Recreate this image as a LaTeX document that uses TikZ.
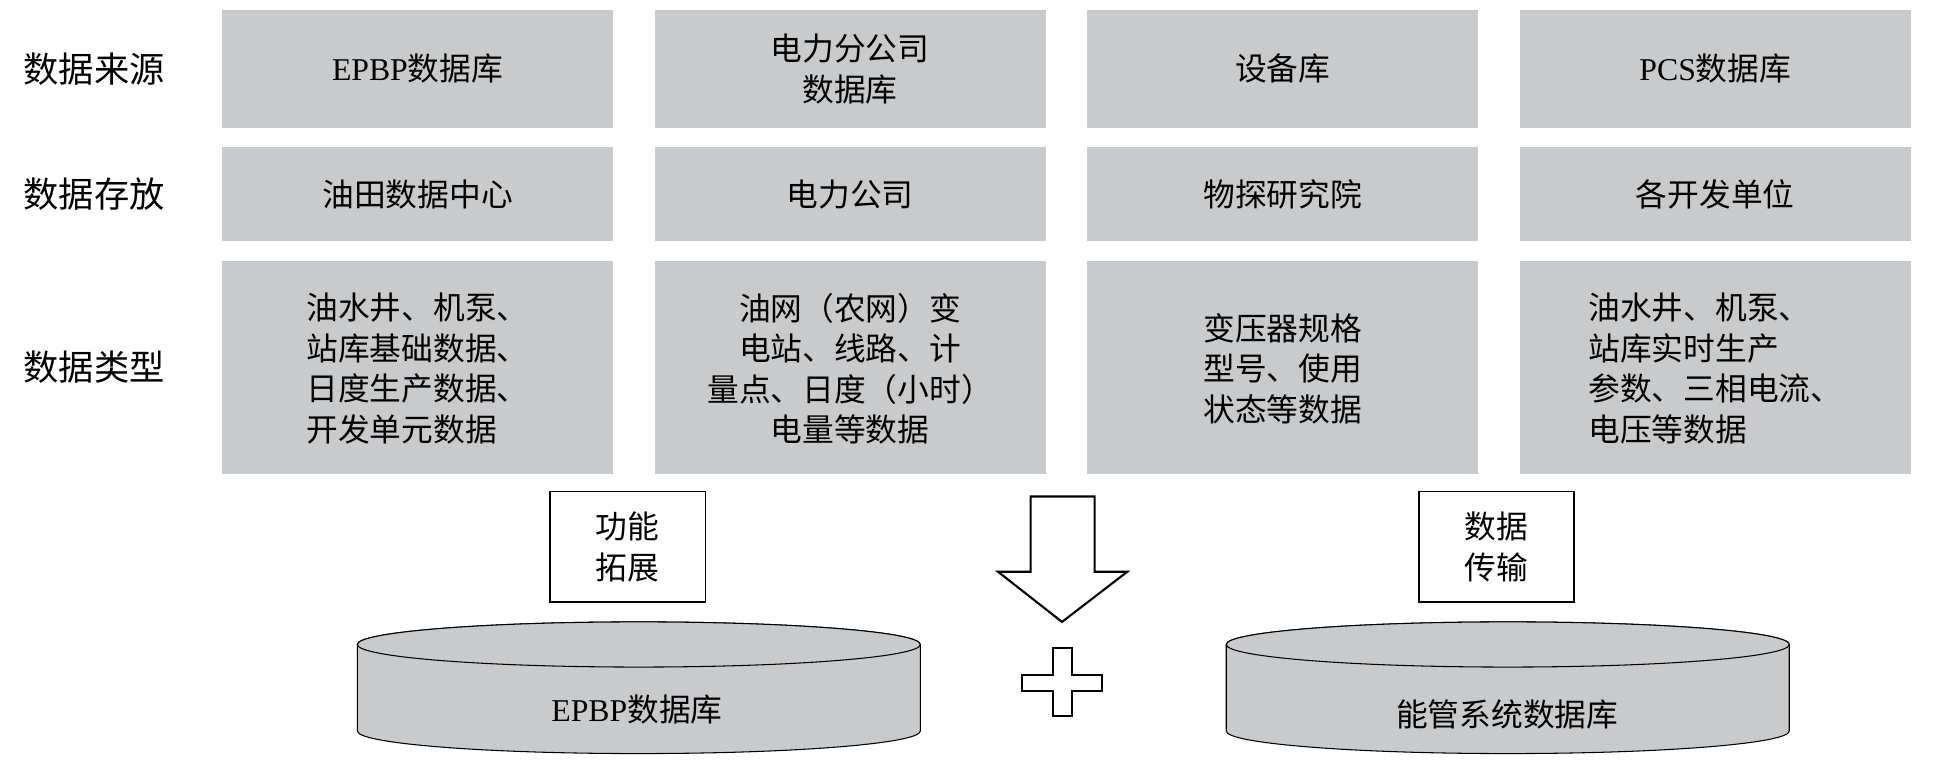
\documentclass[tikz,border=0pt]{standalone}
\usepackage{fontspec}
\setmainfont{Liberation Serif}
\newfontfamily\cjk{Noto Sans CJK SC}
\usetikzlibrary{shapes.geometric}
\definecolor{boxgrey}{HTML}{C9CACC}
\tikzset{
  cell/.style={fill=boxgrey,draw=none,align=center,font=\cjk\fontsize{18}{23}\selectfont},
  rowlab/.style={font=\cjk\fontsize{20}{24}\selectfont},
  wbox/.style={draw=black,line width=0.9pt,fill=white,align=center,font=\cjk\fontsize{18}{23}\selectfont},
  cyl/.style={draw=black,line width=0.6pt,fill=boxgrey},
  outlineshape/.style={draw=black,line width=1.2pt,fill=white}
}
\begin{document}
\begin{tikzpicture}[x=0.025cm,y=-0.025cm]
\useasboundingbox (0,0) rectangle (1560,614);
\node[rowlab] (l1) at (75,55) {数据来源};
\node[rowlab] (l2) at (75,155) {数据存放};
\node[rowlab] (l3) at (75,293) {数据类型};
% columns
\foreach \x/\n in {177/a,522/b,867/c,1212/d}{
  \fill[boxgrey] (\x,8) rectangle ++(312,94);
  \fill[boxgrey] (\x,117) rectangle ++(312,75);
  \fill[boxgrey] (\x,208) rectangle ++(312,170);
}
\node[cell] (a1) at (333,55) {{\rmfamily EPBP}数据库};
\node[cell] (b1) at (678,55) {电力分公司\\数据库};
\node[cell] (c1) at (1023,55) {设备库};
\node[cell] (d1) at (1368,55) {{\rmfamily PCS}数据库};
\node[cell] (a2) at (333,155) {油田数据中心};
\node[cell] (b2) at (678,155) {电力公司};
\node[cell] (c2) at (1023,155) {物探研究院};
\node[cell] (d2) at (1368,155) {各开发单位};
\node[cell,align=left] (a3) at (333,294) {油水井、机泵、\\站库基础数据、\\日度生产数据、\\开发单元数据};
\node[cell] (b3) at (678,294) {油网（农网）变\\电站、线路、计\\量点、日度（小时）\\电量等数据};
\node[cell,align=left] (c3) at (1023,294) {变压器规格\\型号、使用\\状态等数据};
\node[cell,align=left] (d3) at (1368,294) {油水井、机泵、\\站库实时生产\\参数、三相电流、\\电压等数据};
% boxes
\node[wbox,minimum width=3.1cm,minimum height=2.2cm] (f) at (500.5,436) {功能\\拓展};
\node[wbox,minimum width=3.1cm,minimum height=2.2cm] (t) at (1193.5,436) {数据\\传输};
% arrow
\draw[outlineshape] (822,396) -- (873,396) -- (873,456) -- (899,456) -- (847,496) -- (796,456) -- (822,456) -- cycle;
% plus
\draw[outlineshape] (840,517) -- (855,517) -- (855,538) -- (879,538) -- (879,551) -- (855,551) -- (855,571) -- (840,571) -- (840,551) -- (815,551) -- (815,538) -- (840,538) -- cycle;
% cylinders
\foreach \cx/\n in {509.5/L,1202.5/R}{
  \draw[cyl] (\cx-224.5,514) -- (\cx-224.5,583) arc[start angle=180,end angle=0,x radius=224.5,y radius=18] -- (\cx+224.5,514) arc[start angle=0,end angle=-180,x radius=224.5,y radius=18];
  \draw[cyl] (\cx,514) ellipse[x radius=224.5,y radius=18];
}
\node[font=\cjk\fontsize{18}{22}\selectfont] (e) at (508,566) {{\rmfamily EPBP}数据库};
\node[font=\cjk\fontsize{18}{22}\selectfont] (n) at (1202,570) {能管系统数据库};
\end{tikzpicture}
\end{document}
